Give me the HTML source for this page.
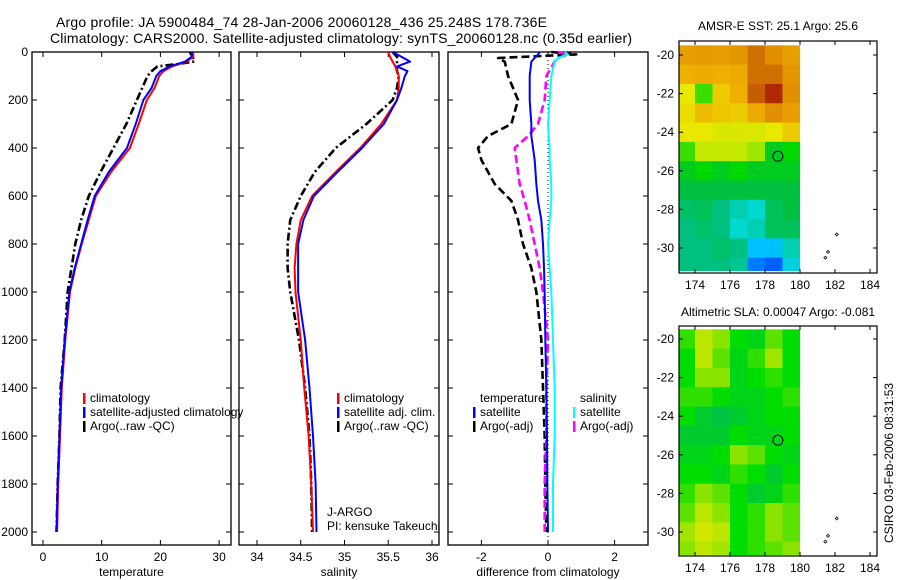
<!DOCTYPE html>
<html><head><meta charset="utf-8"><style>
body{margin:0;background:#fff;}
svg{display:block;font-family:"Liberation Sans",sans-serif;}
</style></head><body>
<svg id="c" width="900" height="580" viewBox="0 0 900 580">
<text x="56" y="27" font-size="14" textLength="491">Argo profile: JA 5900484_74 28-Jan-2006 20060128_436 25.248S 178.736E</text>
<text x="50" y="43" font-size="14" textLength="582">Climatology: CARS2000. Satellite-adjusted climatology: synTS_20060128.nc (0.35d earlier)</text>
<text x="778" y="30" font-size="12" text-anchor="middle">AMSR-E SST: 25.1 Argo: 25.6</text>
<text x="778" y="316" font-size="12" text-anchor="middle">Altimetric SLA: 0.00047 Argo: -0.081</text>
<text transform="translate(893,463) rotate(-90)" font-size="12" text-anchor="middle">CSIRO 03-Feb-2006 08:31:53</text>
<g id="g"></g>
</svg>
<script>
// ---- data ----
const depths=[0,20,40,60,80,100,150,200,300,400,500,600,700,800,900,1000,1200,1400,1600,1800,2000];
const tempClim=[25.6,25.6,24.5,22,20.5,19.8,19,17.7,16.3,14.8,11.6,9,7.8,6.6,5.5,4.6,3.8,3.2,2.9,2.6,2.4];
const tempSat=[25.4,25.3,24.2,21.6,20,19.3,18.5,17.1,15.8,14.3,11.2,8.8,7.6,6.5,5.4,4.5,3.7,3.1,2.8,2.5,2.3];
const argoDepths=[0,20,40,50,60,80,100,200,300,400,500,600,700,800,1000,1200,1400,1600,1800,2000];
const tempArgo=[25,25.5,25.8,23,19.5,18.5,17.8,16,14.2,12,9.8,7.8,6.5,5.5,4.2,3.7,3,2.8,2.5,2.3];
const salClim=[35.5,35.52,35.55,35.58,35.6,35.62,35.62,35.6,35.42,35.18,34.9,34.63,34.5,34.45,34.43,34.44,34.5,34.54,34.59,34.62,34.64];
const salSat=[35.55,35.65,35.75,35.6,35.72,35.69,35.65,35.6,35.45,35.2,34.92,34.65,34.53,34.47,34.47,34.47,34.55,34.6,34.64,34.67,34.68];
const salArgo=[35.55,35.6,35.6,35.6,35.6,35.62,35.6,35.55,35.25,34.9,34.66,34.5,34.38,34.35,34.35,34.38,34.48,34.55,34.6,34.62,34.63];
const diffDepths=[0,10,25,40,100,200,300,350,400,450,550,620,700,800,900,1000,1200,1400,1600,1800,2000];
const dTempSat=[-0.25,-0.3,-0.4,-0.5,-0.55,-0.55,-0.5,-0.5,-0.45,-0.4,-0.35,-0.3,-0.2,-0.15,-0.12,-0.1,-0.08,-0.05,-0.03,-0.02,0];
const dTempArgo=[0.1,0.85,-1.5,-1.3,-1.2,-0.9,-1.1,-1.8,-2.1,-2.0,-1.6,-1.1,-0.9,-0.75,-0.5,-0.35,-0.2,-0.15,-0.1,-0.08,-0.05];
const dSalSat=[0.5,0.6,0.3,0.2,0.1,0.05,0.0,0.02,0.05,0.05,0.1,0.1,0.05,0,0.05,0.1,0.15,0.2,0.2,0.15,0.15];
const dSalArgo=[0.3,0.6,0.3,0.2,-0.05,-0.1,-0.3,-0.6,-1.0,-0.95,-0.85,-0.7,-0.55,-0.4,-0.25,-0.15,0,-0.05,-0.05,-0.1,-0.1];
const depthTicks=[0,200,400,600,800,1000,1200,1400,1600,1800,2000];
const tempTicks=[0,10,20,30];
const salTicks=[34,34.5,35,35.5,36];
const diffTicks=[-2,0,2];
const lonTicks=[174,176,178,180,182,184];
const latTicks=[-20,-22,-24,-26,-28,-30];
const mapLons=[173.5,174.5,175.5,176.5,177.5,178.5,179.5];
const mapLats=[-20,-21,-22,-23,-24,-25,-26,-27,-28,-29,-30,-31];
const sstGrid=[
[.75,.77,.76,.78,.85,.8,.75],[.7,.72,.7,.72,.85,.85,.78],[.6,.45,.65,.7,.88,.95,.8],[.62,.68,.66,.65,.72,.8,.75],
[.6,.6,.58,.58,.58,.6,.65],[.45,.55,.55,.55,.5,.4,.42],[.4,.42,.4,.42,.4,.4,.4],[.38,.38,.38,.38,.38,.38,.38],
[.33,.35,.3,.25,.22,.35,.38],[.3,.33,.3,.22,.25,.35,.35],[.3,.3,.33,.3,.15,.15,.25],[.3,.3,.3,.28,.1,.08,.2]];
const slaGrid=[
[.6,.9,.8,.5,.4,.7,.5],[.5,.9,.7,.4,.6,.85,.5],[.5,.8,.8,.4,.5,.6,.5],[.6,.6,.5,.4,.4,.5,.6],
[.5,.3,.2,.3,.4,.5,.5],[.3,.3,.3,.5,.4,.4,.5],[.4,.4,.5,.8,.7,.5,.4],[.5,.5,.4,.6,.5,.3,.5],
[.6,.8,.7,.5,.3,.4,.6],[.7,.9,.8,.5,.6,.8,.7],[.85,.95,.9,.5,.6,.8,.7],[.8,.9,.85,.5,.6,.7,.8]];
const argoLon=178.736, argoLat=-25.248;
const islandLons=[181.45,181.6,182.1], islandLats=[-30.5,-30.2,-29.3];

const NS="http://www.w3.org/2000/svg", G=document.getElementById('g');
function mk(t,a,p){const e=document.createElementNS(NS,t);for(const k in a)e.setAttribute(k,a[k]);(p||G).appendChild(e);return e;}
const yD=d=>52+d*0.24;

function panel(name,x0,x1,xs,ticks,fmt,label,showY){
  const g=mk('g',{});
  
  
  const r=mk('rect',{x:x0,y:52,width:x1-x0,height:493,fill:'none',stroke:'#000','stroke-width':1.3},g);
  
  
  ticks.forEach(t=>{const x=xs(t);
    mk('line',{x1:x,x2:x,y1:545,y2:540,stroke:'#000'},g);mk('line',{x1:x,x2:x,y1:52,y2:57,stroke:'#000'},g);
    const tl=mk('text',{x:x,y:561,'font-size':12,'text-anchor':'middle'},g);tl.textContent=fmt(t);
    
    });
  depthTicks.forEach(d=>{const y=yD(d);
    mk('line',{x1:x0,x2:x0+5,y1:y,y2:y,stroke:'#000'},g);mk('line',{x1:x1,x2:x1-5,y1:y,y2:y,stroke:'#000'},g);
    if(showY){const tl=mk('text',{x:28,y:y+4,'font-size':12,'text-anchor':'end'},g);tl.textContent=d;
      
      }});
  const al=mk('text',{x:(x0+x1)/2,y:576,'font-size':12,'text-anchor':'middle'},g);al.textContent=label;
  
  
  return g;}
function line(g,name,ds,vs,xs,col,w,dash){
  const p=mk('polyline',{points:ds.map((d,i)=>xs(vs[i])+','+yD(d)).join(' '),fill:'none',stroke:col,'stroke-width':w,'stroke-dasharray':dash||'none','stroke-linejoin':'round'},g);
  
  }
function legend(g,name,x,y,entries){
  entries.forEach((e,i)=>{const yy=y+i*14;
    if(e[0]){const r=mk('rect',{x:x,y:yy-9,width:2.5,height:11,fill:e[0]},g);
      
      }
    const t=mk('text',{x:x+7,y:yy,'font-size':12},g);t.textContent=e[1];
    
    });}

// temperature
const xT=v=>43+v*5.87;
let g1=panel('temperature-panel',32,231,xT,tempTicks,String,'temperature',true);
line(g1,'temp-argo-line',argoDepths,tempArgo,xT,'#000',2.6,'8,3,2,3');
line(g1,'temp-climatology-line',depths,tempClim,xT,'#f00',2);
line(g1,'temp-satellite-line',depths,tempSat,xT,'#00f',2);
legend(g1,'temp-legend',83,402,[['#f00','climatology'],['#00f','satellite-adjusted climatology'],['#000','Argo(..raw -QC)']]);
// salinity
const xS=v=>257+(v-34)*87.5;
let g2=panel('salinity-panel',239,439,xS,salTicks,String,'salinity',false);
line(g2,'sal-argo-line',depths,salArgo,xS,'#000',2.6,'8,3,2,3');
line(g2,'sal-climatology-line',depths,salClim,xS,'#f00',2);
line(g2,'sal-satellite-line',depths,salSat,xS,'#00f',2);
legend(g2,'sal-legend',337,402,[['#f00','climatology'],['#00f','satellite adj. clim.'],['#000','Argo(..raw -QC)']]);
legend(g2,'float-info',320,516,[[null,'J-ARGO'],[null,'PI: kensuke Takeuchi']]);
// difference
const xF=v=>548+v*33.3;
let g3=panel('difference-panel',448,648,xF,diffTicks,String,'difference from climatology',false);
const zl=mk('line',{x1:xF(0),x2:xF(0),y1:52,y2:545,stroke:'#000','stroke-dasharray':'1,3'},g3);


line(g3,'diff-temp-argo-line',diffDepths,dTempArgo,xF,'#000',2.6,'8,4');
line(g3,'diff-sal-argo-line',diffDepths,dSalArgo,xF,'#f0f',2.6,'8,4');
line(g3,'diff-sal-satellite-line',diffDepths,dSalSat,xF,'#0ff',2);
line(g3,'diff-temp-satellite-line',diffDepths,dTempSat,xF,'#00f',2);
legend(g3,'diff-temp-legend',473,402,[[null,'temperature'],['#00f','satellite'],['#000','Argo(-adj)']]);
legend(g3,'diff-sal-legend',573,402,[[null,'salinity'],['#0ff','satellite'],['#f0f','Argo(-adj)']]);

// maps
function lerpC(stops,v){for(let i=1;i<stops.length;i++){if(v<=stops[i][0]||i==stops.length-1){const a=stops[i-1],b=stops[i];let t=(v-a[0])/(b[0]-a[0]);t=Math.max(0,Math.min(1,t));
  const c=[0,1,2].map(k=>Math.round(a[1][k]+(b[1][k]-a[1][k])*t));return 'rgb('+c+')';}}}
const sstStops=[[0.08,[0,96,255]],[0.15,[0,192,255]],[0.22,[0,216,208]],[0.3,[0,192,128]],[0.38,[0,192,64]],[0.42,[0,216,0]],[0.5,[160,232,0]],[0.6,[232,232,0]],[0.7,[240,176,0]],[0.8,[224,144,0]],[0.9,[192,80,0]],[1,[160,0,0]]];
const slaStops=[[0,[0,176,112]],[0.5,[0,221,0]],[1,[232,232,0]]];
function map(name,top,bot,y20,y30,grid,stops){
  const g=mk('g',{});
  
  
  const xm=l=>695+(l-174)*17.5, ym=la=>y20+(la+20)*(y30-y20)/-10;
  const clip=mk('clipPath',{id:name+'c'},g);mk('rect',{x:679,y:ym(-19.4),width:xm(180.2)-679,height:ym(-31.2)-ym(-19.4)},clip);
  const cg=mk('g',{'clip-path':'url(#'+name+'c)'},g);
  mapLats.forEach((la,i)=>mapLons.forEach((lo,j)=>{
    const c=mk('rect',{x:xm(lo-0.5),y:ym(la+0.5),width:17.6,height:Math.abs(y30-y20)/10+0.4,fill:lerpC(stops,grid[i][j])},cg);
    
    }));
  const fr=mk('rect',{x:679,y:top,width:198,height:bot-top,fill:'none',stroke:'#000','stroke-width':1.2},g);
  
  
  lonTicks.forEach(l=>{const x=xm(l);mk('line',{x1:x,x2:x,y1:bot,y2:bot-4,stroke:'#000'},g);mk('line',{x1:x,x2:x,y1:top,y2:top+4,stroke:'#000'},g);
    const t=mk('text',{x:x,y:bot+16,'font-size':12,'text-anchor':'middle'},g);t.textContent=l;
    
    });
  latTicks.forEach(la=>{const y=ym(la);mk('line',{x1:679,x2:683,y1:y,y2:y,stroke:'#000'},g);mk('line',{x1:877,x2:873,y1:y,y2:y,stroke:'#000'},g);
    const t=mk('text',{x:674,y:y+4,'font-size':12,'text-anchor':'end'},g);t.textContent=la;
    
    });
  islandLons.forEach((lo,i)=>{const x=xm(lo),y=ym(islandLats[i]);
    const d=mk('path',{d:`M${x-1.5},${y}L${x},${y-1.5}L${x+1.5},${y}L${x},${y+1.5}Z`,fill:'none',stroke:'#000','stroke-width':0.8},g);
    
    });
  const c=mk('circle',{cx:xm(argoLon),cy:ym(argoLat),r:5,fill:'none',stroke:'#000','stroke-width':1},g);
  
  }
map('sst-map',41,273,55,248,sstGrid,sstStops);
map('sla-map',326,556,339,532,slaGrid,slaStops);
</script>
</body></html>
